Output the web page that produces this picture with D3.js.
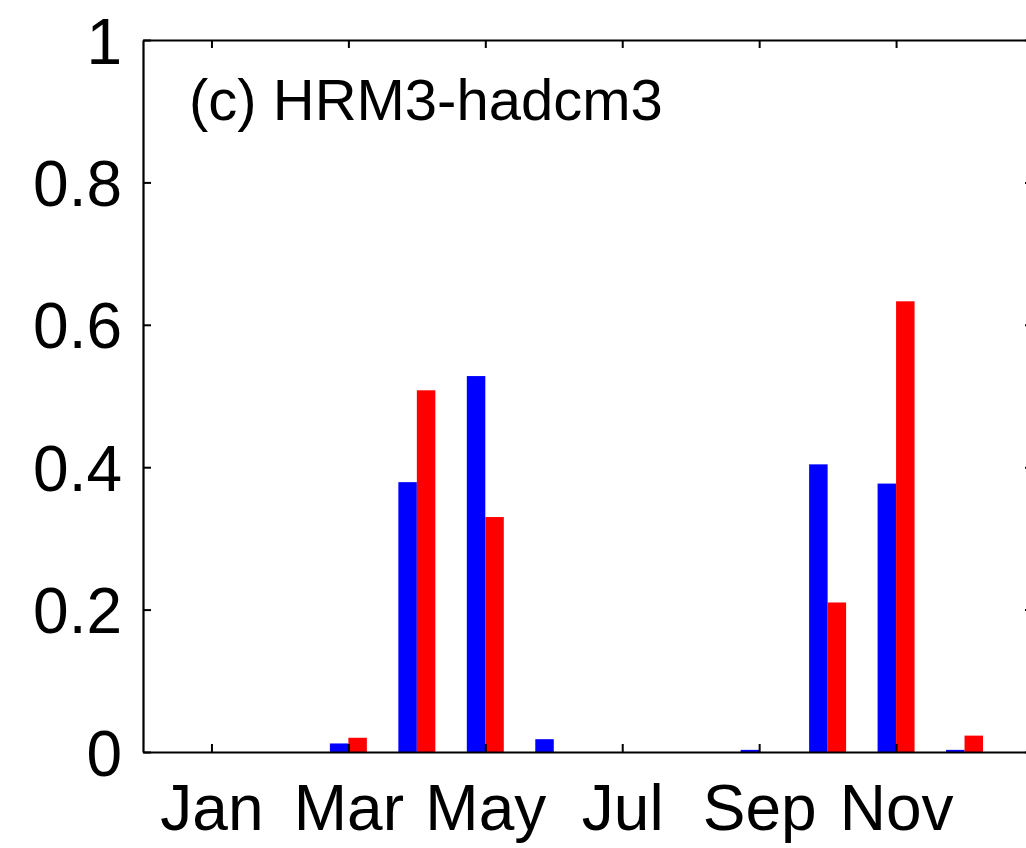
<!DOCTYPE html>
<html>
<head>
<meta charset="utf-8">
<script src="https://cdn.jsdelivr.net/npm/d3@7"></script>
<style>
  html, body { margin: 0; padding: 0; background: #fff; }
  svg { display: block; }
  text { font-family: "Liberation Sans", Arial, sans-serif; fill: #000; }
</style>
</head>
<body>
<svg id="chart" width="1026" height="848"></svg>
<script>
// Monthly fractions for the two series (blue, red)
const months = [1, 2, 3, 4, 5, 6, 7, 8, 9, 10, 11, 12];
const blueValues = [0, 0, 0.012, 0.379, 0.528, 0.018, 0, 0, 0.003, 0.404, 0.377, 0.003];
const redValues  = [0, 0, 0.020, 0.508, 0.330, 0, 0, 0, 0, 0.210, 0.633, 0.023];
const xTickMonths = [1, 3, 5, 7, 9, 11];
const xTickLabels = ["Jan", "Mar", "May", "Jul", "Sep", "Nov"];
const yTicks = [0, 0.2, 0.4, 0.6, 0.8, 1];
const panelTitle = "(c) HRM3-hadcm3";

const svg = d3.select("#chart");
const plotLeft = 143, plotRight = 1033, plotTop = 40, plotBottom = 752;

const x = d3.scaleLinear().domain([0, 13]).range([plotLeft, plotRight]);
const y = d3.scaleLinear().domain([0, 1]).range([plotBottom, plotTop]);

const barW = 0.27; // width of each bar in month units

// bars
const g = svg.append("g");
g.selectAll("rect.blue").data(months).join("rect")
  .attr("class", "blue")
  .attr("x", (d) => x(d - barW))
  .attr("width", x(barW) - x(0))
  .attr("y", (d, i) => y(blueValues[i]))
  .attr("height", (d, i) => y(0) - y(blueValues[i]))
  .attr("fill", "#0000ff");
g.selectAll("rect.red").data(months).join("rect")
  .attr("class", "red")
  .attr("x", (d) => x(d))
  .attr("width", x(barW) - x(0))
  .attr("y", (d, i) => y(redValues[i]))
  .attr("height", (d, i) => y(0) - y(redValues[i]))
  .attr("fill", "#ff0000");

const tickLen = 8;
const fontSize = 64;

// bottom axis
const xAxis = d3.axisBottom(x).tickValues(xTickMonths)
  .tickFormat((d, i) => xTickLabels[i]).tickSizeInner(-tickLen).tickSizeOuter(0).tickPadding(33);
const gx = svg.append("g").attr("transform", `translate(0,${plotBottom})`).call(xAxis);

// top axis (ticks only)
const gxt = svg.append("g").attr("transform", `translate(0,${plotTop})`)
  .call(d3.axisTop(x).tickValues(xTickMonths).tickFormat("").tickSizeInner(-tickLen).tickSizeOuter(0));

// left axis
const yAxis = d3.axisLeft(y).tickValues(yTicks)
  .tickFormat(d3.format("~g")).tickSizeInner(-tickLen).tickSizeOuter(0).tickPadding(21);
const gy = svg.append("g").attr("transform", `translate(${plotLeft},0)`).call(yAxis);

// right axis (ticks only)
const gyr = svg.append("g").attr("transform", `translate(${plotRight},0)`)
  .call(d3.axisRight(y).tickValues(yTicks).tickFormat("").tickSizeInner(-tickLen).tickSizeOuter(0));

[gx, gxt, gy, gyr].forEach((a) => {
  a.select(".domain").attr("stroke", "#000").attr("stroke-width", 2.2);
  a.selectAll(".tick line").attr("stroke", "#000").attr("stroke-width", 2);
  a.selectAll(".tick text").attr("font-size", fontSize)
    .attr("font-family", "'Liberation Sans', Arial, sans-serif").attr("fill", "#000");
});
gx.selectAll(".tick text").attr("dy", "0.71em");
gy.selectAll(".tick text").attr("dy", "0.36em");

// panel label
svg.append("text")
  .attr("x", 189).attr("y", 120)
  .attr("font-size", 58)
  .text(panelTitle);
</script>
</body>
</html>
